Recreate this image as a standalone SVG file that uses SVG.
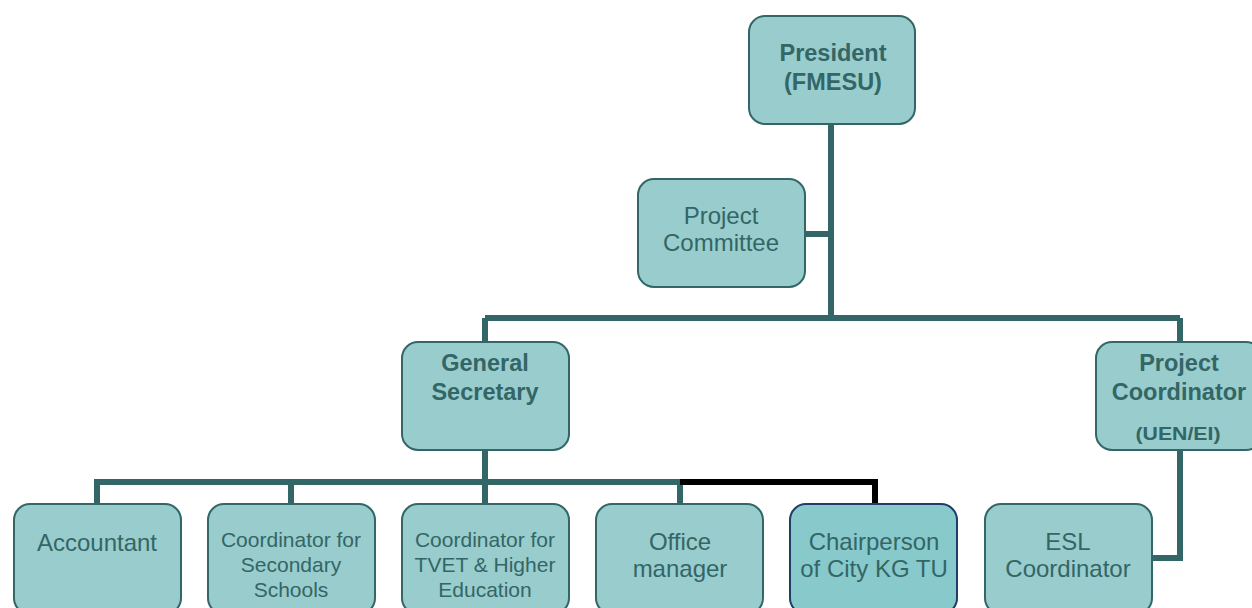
<svg xmlns="http://www.w3.org/2000/svg" width="1252" height="608" viewBox="0 0 1252 608">
<style>
.box{fill:#99cccc;stroke:#336666;stroke-width:2}
.box2{fill:#88c9cc;stroke:#1f3f66;stroke-width:2}
.t{font-family:"Liberation Sans",Arial,sans-serif;fill:#336666;text-anchor:middle}
.b{font-weight:bold;font-size:23.5px}
.r{font-size:24px}
.s{font-size:21px}
.ln{fill:none;stroke:#336666;stroke-width:6}
</style>
<rect width="1252" height="608" fill="#ffffff"/>
<g id="connectors">
<path class="ln" d="M831 124V318M805 234H831M485 318H1180M485 342V318M1180 342V318"/>
<path class="ln" d="M485 450V482M97 504V482H680M291 504V482M485 504V482M680 504V482"/>
<path fill="none" stroke="#000000" stroke-width="6" d="M680 482H875V504"/>
<path class="ln" d="M1180 450V558H1152"/>
</g>
<g id="president"><rect class="box" x="749" y="16" width="166" height="108" rx="16"/>
<text class="t b" x="833" y="61">President</text><text class="t b" x="833" y="90">(FMESU)</text></g>
<g id="committee"><rect class="box" x="638" y="179" width="167" height="108" rx="16"/>
<text class="t r" x="721" y="224">Project</text><text class="t r" x="721" y="251">Committee</text></g>
<g id="gensec"><rect class="box" x="402" y="342" width="167" height="108" rx="16"/>
<text class="t b" x="485" y="371">General</text><text class="t b" x="485" y="400">Secretary</text></g>
<g id="projcoord"><rect class="box" x="1096" y="342" width="166" height="108" rx="16"/>
<text class="t b" x="1179" y="371">Project</text><text class="t b" x="1179" y="400">Coordinator</text><text class="t" x="1178" y="440" font-size="19" font-weight="bold" textLength="85" lengthAdjust="spacingAndGlyphs">(UEN/EI)</text></g>
<g id="accountant"><rect class="box" x="14" y="504" width="167" height="110" rx="16"/>
<text class="t r" x="97" y="551">Accountant</text></g>
<g id="secondary"><rect class="box" x="208" y="504" width="167" height="110" rx="16"/>
<text class="t s" x="291" y="547">Coordinator for</text><text class="t s" x="291" y="572">Secondary</text><text class="t s" x="291" y="597">Schools</text></g>
<g id="tvet"><rect class="box" x="402" y="504" width="167" height="110" rx="16"/>
<text class="t s" x="485" y="547">Coordinator for</text><text class="t s" x="485" y="572">TVET &amp; Higher</text><text class="t s" x="485" y="597">Education</text></g>
<g id="office"><rect class="box" x="596" y="504" width="167" height="110" rx="16"/>
<text class="t r" x="680" y="550">Office</text><text class="t r" x="680" y="577">manager</text></g>
<g id="chair"><rect class="box2" x="790" y="504" width="167" height="110" rx="16"/>
<text class="t r" x="874" y="550">Chairperson</text><text class="t r" x="874" y="577">of City KG TU</text></g>
<g id="esl"><rect class="box" x="985" y="504" width="167" height="110" rx="16"/>
<text class="t r" x="1068" y="550">ESL</text><text class="t r" x="1068" y="577">Coordinator</text></g>
</svg>
